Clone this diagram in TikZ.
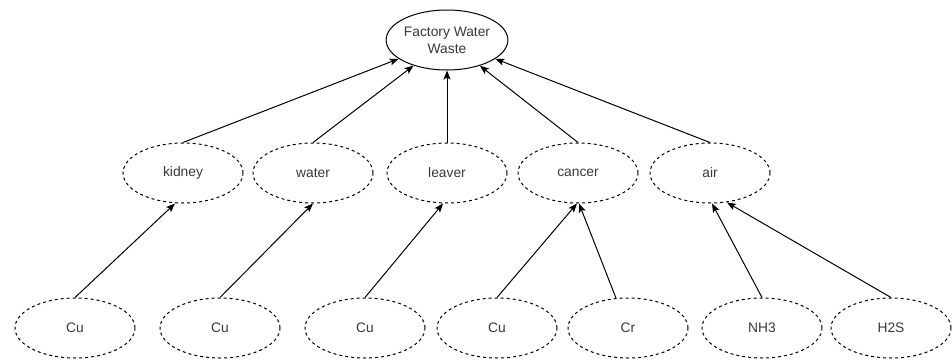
\documentclass[tikz,border=0pt]{standalone}
\usepackage{fontspec}
\setmainfont{Liberation Sans}
\usetikzlibrary{shapes.geometric,arrows.meta,calc}

\tikzset{
  every picture/.style={x=1pt,y=-1pt},
  blob/.style={ellipse, draw, line width=1pt, minimum width=120pt, minimum height=60pt,
    inner sep=0pt, align=center, text=black!78,
    font=\fontsize{13.8}{17}\selectfont},
  dblob/.style={blob, dash pattern=on 3pt off 3pt},
  link/.style={draw, line width=1pt, -{Stealth[length=9pt,width=7pt,inset=2pt]}}
}

\begin{document}
\begin{tikzpicture}
\useasboundingbox (0,0) rectangle (952,361);

% root
\node[blob] (root) at (447,40) {Factory Water\\Waste};

% middle level
\node[dblob] (kidney) at (183,173) {kidney};
\node[dblob] (water)  at (313,173) {water};
\node[dblob] (leaver) at (447,173) {leaver};
\node[dblob] (cancer) at (578,173) {cancer};
\node[dblob] (air)    at (710,173) {air};

% bottom level
\node[dblob] (cua) at (75,328)  {Cu};
\node[dblob] (cub) at (220,328) {Cu};
\node[dblob] (cuc) at (365,328) {Cu};
\node[dblob] (cud) at (497,328) {Cu};
\node[dblob] (cr)  at (628,328) {Cr};
\node[dblob] (nh)  at (762,328) {NH3};
\node[dblob] (hs)  at (891,328) {H2S};

% middle -> root
\foreach \n in {kidney,water,leaver,cancer,air}
  \path[link] (\n.north) -- (root);

% bottom -> middle
\path[link] (cua.north) -- ($(kidney.south)+(-8,0)$);
\path[link] (cub.north) -- (water.south);
\path[link] (cuc.north) -- ($(leaver.south)+(-4,0)$);
\path[link] (cud.north) -- ($(cancer.south)+(-1,0)$);
\path[link] ($(cr.north)+(-12,0.6)$) -- ($(cancer.south)+(1,0)$);
\path[link] (nh.north) -- ($(air.south)+(2,0)$);
\path[link] (hs.north) -- ($(air.south)+(17,-1)$);
\end{tikzpicture}
\end{document}
